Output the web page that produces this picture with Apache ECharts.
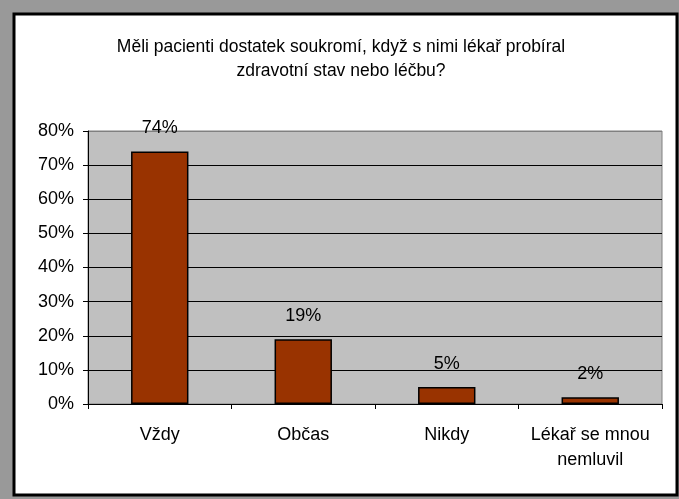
<!DOCTYPE html>
<html>
<head>
<meta charset="utf-8">
<script src="https://cdn.jsdelivr.net/npm/echarts@6/dist/echarts.min.js"></script>
<style>
  html, body { margin: 0; padding: 0; background: #999999; }
  #main { width: 679px; height: 499px; }
</style>
</head>
<body>
<div id="main"></div>
<script>
var titleText = 'Měli pacienti dostatek soukromí, když s nimi lékař probíral\nzdravotní stav nebo léčbu?';
var categories = ['Vždy', 'Občas', 'Nikdy', 'Lékař se mnou\nnemluvil'];
var shares = [74, 19, 5, 2];   // percent
var yTicks = [0, 10, 20, 30, 40, 50, 60, 70, 80];

var font = 'Liberation Sans, Arial, sans-serif';

var myChart = echarts.init(document.getElementById('main'));

// grid lines black, the top one sits on the grey plot border
var gridColors = [];
for (var i = 0; i < yTicks.length; i++) {
	gridColors.push(i == yTicks.length - 1 ? '#808080' : '#000000');
}

myChart.setOption({
	backgroundColor: '#999999',
	animation: false,
	graphic: [
		{ type: 'rect', z: -10, shape: { x: 14, y: 14, width: 663, height: 481 },
		  style: { fill: '#ffffff', stroke: '#000000', lineWidth: 3 } }
	],
	title: {
		text: titleText,
		left: 336,
		top: 30,
		textAlign: 'center',
		textStyle: { fontFamily: font, fontSize: 17.5, fontWeight: 'normal', color: '#000', lineHeight: 24 }
	},
	grid: {
		left: 88, top: 131, right: 17, bottom: 95,
		show: true, backgroundColor: '#C0C0C0', borderColor: '#808080', borderWidth: 1
	},
	xAxis: {
		type: 'category',
		data: categories,
		axisLine: { lineStyle: { color: '#000', width: 1 } },
		axisTick: { show: true, length: 5, lineStyle: { color: '#000' } },
		axisLabel: { fontFamily: font, fontSize: 18, color: '#000', margin: 19, lineHeight: 25, interval: 0 }
	},
	yAxis: {
		type: 'value',
		min: 0, max: 80, interval: 10,
		axisLine: { show: true, lineStyle: { color: '#000', width: 1 } },
		axisTick: { show: true, length: 5, lineStyle: { color: '#000' } },
		axisLabel: { fontFamily: font, fontSize: 18, color: '#000', margin: 14, formatter: '{value}%' },
		splitLine: { show: true, lineStyle: { color: gridColors, width: 1 } }
	},
	series: [{
		type: 'bar',
		data: shares,
		barWidth: '40%',
		itemStyle: { color: '#993300', borderColor: '#000', borderWidth: 1.5 },
		label: {
			show: true, position: 'top', distance: 14,
			fontFamily: font, fontSize: 18, color: '#000',
			formatter: '{c}%'
		}
	}]
});
</script>
</body>
</html>
